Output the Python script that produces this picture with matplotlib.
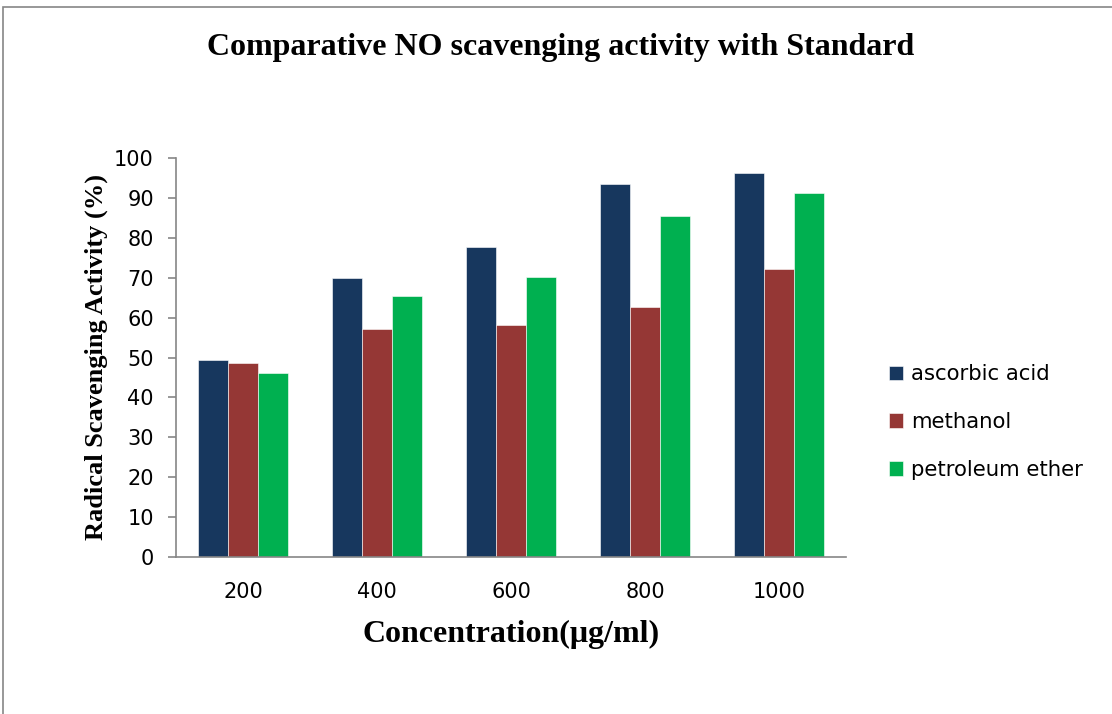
import numpy as np
import matplotlib
matplotlib.use('Agg')
import matplotlib.pyplot as plt
from matplotlib.patches import Rectangle

# data
concentrations = ['200', '400', '600', '800', '1000']
ascorbic_acid = [49.4, 69.9, 77.7, 93.5, 96.2]
methanol = [48.5, 57.2, 58.1, 62.6, 72.3]
petroleum_ether = [46.0, 65.4, 70.1, 85.4, 91.2]

series = [('ascorbic acid', ascorbic_acid, '#17375E'),
          ('methanol', methanol, '#953735'),
          ('petroleum ether', petroleum_ether, '#00B050')]

fig = plt.figure(figsize=(11.12, 7.14), dpi=100)
ax = fig.add_axes([176 / 1112, 1 - 557 / 714, 670 / 1112, 399 / 714])

x = np.arange(len(concentrations))
width = 0.222
for i, (name, vals, col) in enumerate(series):
    ax.bar(x + (i - 1) * width, vals, width, color=col, label=name,
           edgecolor='white', linewidth=0.4)

ax.set_xlim(-0.5, len(concentrations) - 0.5)
ax.set_ylim(0, 100)
ax.set_yticks(np.arange(0, 101, 10))
ax.set_xticks(x)
ax.set_xticklabels(concentrations)

for side in ['top', 'right']:
    ax.spines[side].set_visible(False)
for side in ['left', 'bottom']:
    ax.spines[side].set_color('#868686')
    ax.spines[side].set_linewidth(1.2)
ax.tick_params(axis='y', colors='#868686', length=6, width=1.2, labelcolor='black',
               labelsize=15, pad=10)
ax.tick_params(axis='x', length=0, labelsize=15, pad=18)
for lab in ax.get_xticklabels() + ax.get_yticklabels():
    lab.set_family('DejaVu Sans')

ax.set_xlabel('Concentration(μg/ml)', family='Liberation Serif', fontweight='bold',
              fontsize=23, labelpad=13)
ax.set_ylabel('Radical Scavenging Activity (%)', family='Liberation Serif',
              fontweight='bold', fontsize=19, labelpad=4)

fig.text(561 / 1112, 1 - 47 / 714, 'Comparative NO scavenging activity with Standard',
         family='Liberation Serif', fontweight='bold', fontsize=23,
         ha='center', va='center')

leg = ax.legend(loc='center left', bbox_to_anchor=(880 / 1112, 1 - 422 / 714),
                bbox_transform=fig.transFigure, frameon=False,
                prop={'family': 'DejaVu Sans', 'size': 15.3},
                handlelength=0.7, handleheight=0.7, handletextpad=0.35,
                labelspacing=1.3, borderaxespad=0)

# outer chart border (left and top visible)
fig.patches.append(Rectangle((3 / 1112, -0.1), 1.2, 1 - 7 / 714 + 0.1,
                             transform=fig.transFigure, fill=False,
                             edgecolor='#868686', linewidth=1.2))

fig.savefig('out.png', dpi=100)
